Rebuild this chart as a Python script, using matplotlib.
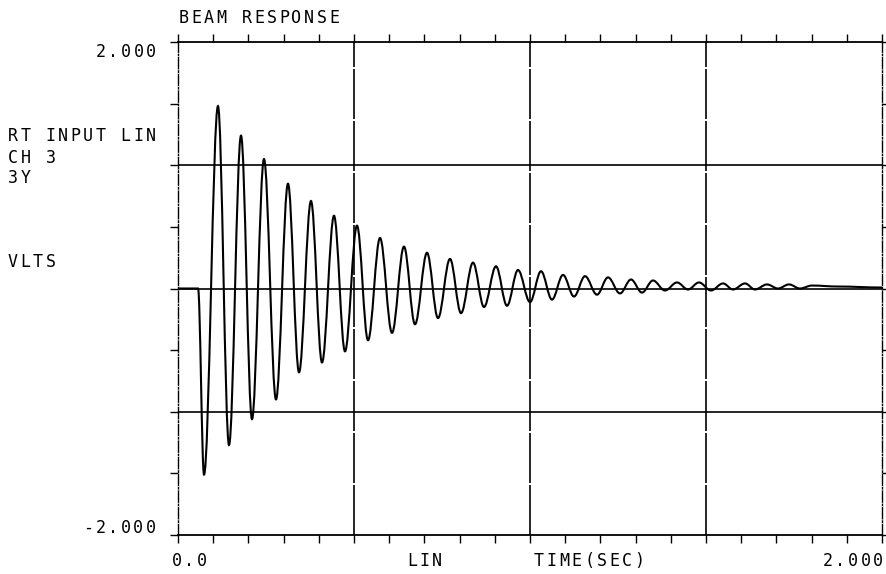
import numpy as np
import matplotlib.pyplot as plt
from matplotlib.path import Path
from matplotlib.patches import PathPatch

# Turning points of the beam response (time in s, amplitude in volts)
t_pts = [0.0, 0.057, 0.0739, 0.1136, 0.1449, 0.1790, 0.2102, 0.2443, 0.2784, 0.3125,
         0.3438, 0.3778, 0.4091, 0.4432, 0.4744, 0.5085, 0.5398, 0.5739, 0.6080, 0.6420,
         0.6733, 0.7074, 0.7386, 0.7727, 0.8040, 0.8381, 0.8693, 0.9034, 0.9347, 0.9659,
         1.0000, 1.0313, 1.0625, 1.0938, 1.1250, 1.1563, 1.1903, 1.2216, 1.2557, 1.2869,
         1.3182, 1.3494, 1.3835, 1.4176, 1.4489, 1.4801, 1.5142, 1.5483, 1.5767, 1.6108,
         1.6392, 1.6733, 1.7045, 1.7358, 1.7670, 1.8011, 1.875, 2.0]
v_pts = [0.0, 0.0, -1.51, 1.48, -1.27, 1.24, -1.06, 1.05, -0.90, 0.85,
         -0.68, 0.71, -0.60, 0.59, -0.51, 0.51, -0.42, 0.41, -0.36, 0.34,
         -0.29, 0.29, -0.24, 0.24, -0.20, 0.21, -0.15, 0.18, -0.14, 0.15,
         -0.11, 0.14, -0.09, 0.11, -0.065, 0.10, -0.05, 0.09, -0.04, 0.073,
         -0.033, 0.065, -0.016, 0.049, -0.008, 0.049, -0.016, 0.041, -0.008, 0.041,
         -0.008, 0.033, 0.0, 0.033, 0.0, 0.024, 0.016, 0.008]

x_ticks = np.round(np.arange(0, 2.01, 0.1), 2)
y_ticks = np.arange(-2, 2.01, 0.5)
x_grid = [0.5, 1.0, 1.5]
y_grid = [-1.0, 0.0, 1.0]

W, H = 887, 574
fig = plt.figure(figsize=(W / 100, H / 100), dpi=100)
ax = fig.add_axes([178 / W, 39 / H, 704 / W, 493 / H])
ax.set_xlim(0, 2)
ax.set_ylim(-2, 2)

# smooth pen trace: cubic segments with flat tangents at each turning point
verts = [(t_pts[0], v_pts[0])]
codes = [Path.MOVETO]
k = 0.36
for i in range(len(t_pts) - 1):
    t0, v0, t1, v1 = t_pts[i], v_pts[i], t_pts[i + 1], v_pts[i + 1]
    dt = t1 - t0
    verts += [(t0 + k * dt, v0), (t1 - k * dt, v1), (t1, v1)]
    codes += [Path.CURVE4] * 3
ax.add_patch(PathPatch(Path(verts, codes), fill=False, color='black', lw=1.5))

for yg in y_grid:
    ax.axhline(yg, color='black', lw=1.2)
for xg in x_grid:
    ax.axvline(xg, color='black', lw=1.2, linestyle=(0, (30, 1.2)))

for side in ['top', 'bottom']:
    ax.spines[side].set_linewidth(1.3)
for side in ['left', 'right']:
    ax.spines[side].set_linewidth(1.0)
    ax.spines[side].set_linestyle((0, (8, 1.5, 1, 1.5)))

ax.set_xticks(x_ticks)
ax.set_yticks(y_ticks)
ax.tick_params(axis='x', which='both', top=True, bottom=True, direction='out',
               length=6, width=1.0, labelbottom=False)
ax.tick_params(axis='y', which='both', left=True, right=True, direction='out',
               length=6, width=1.0, labelleft=False)


def pen_text(x, y, s, pitch=12.5):
    # fixed-pitch lettering, x = left edge of first character, y = centre (pixels from top)
    for i, ch in enumerate(s):
        fig.text((x + i * pitch) / W, 1 - y / H, ch, fontsize=12,
                 family='DejaVu Sans Mono', ha='left', va='center')


pen_text(179, 18, "BEAM RESPONSE")
pen_text(96, 52, "2.000")
pen_text(83, 528, "-2.000")
pen_text(8, 136, "RT INPUT LIN")
pen_text(8, 158, "CH 3")
pen_text(8, 178, "3Y")
pen_text(8, 262, "VLTS")
pen_text(172, 561, "0.0")
pen_text(407, 561, "LIN")
pen_text(534, 561, "TIME(SEC)")
pen_text(823, 561, "2.000")

fig.savefig("out.png", dpi=100)
